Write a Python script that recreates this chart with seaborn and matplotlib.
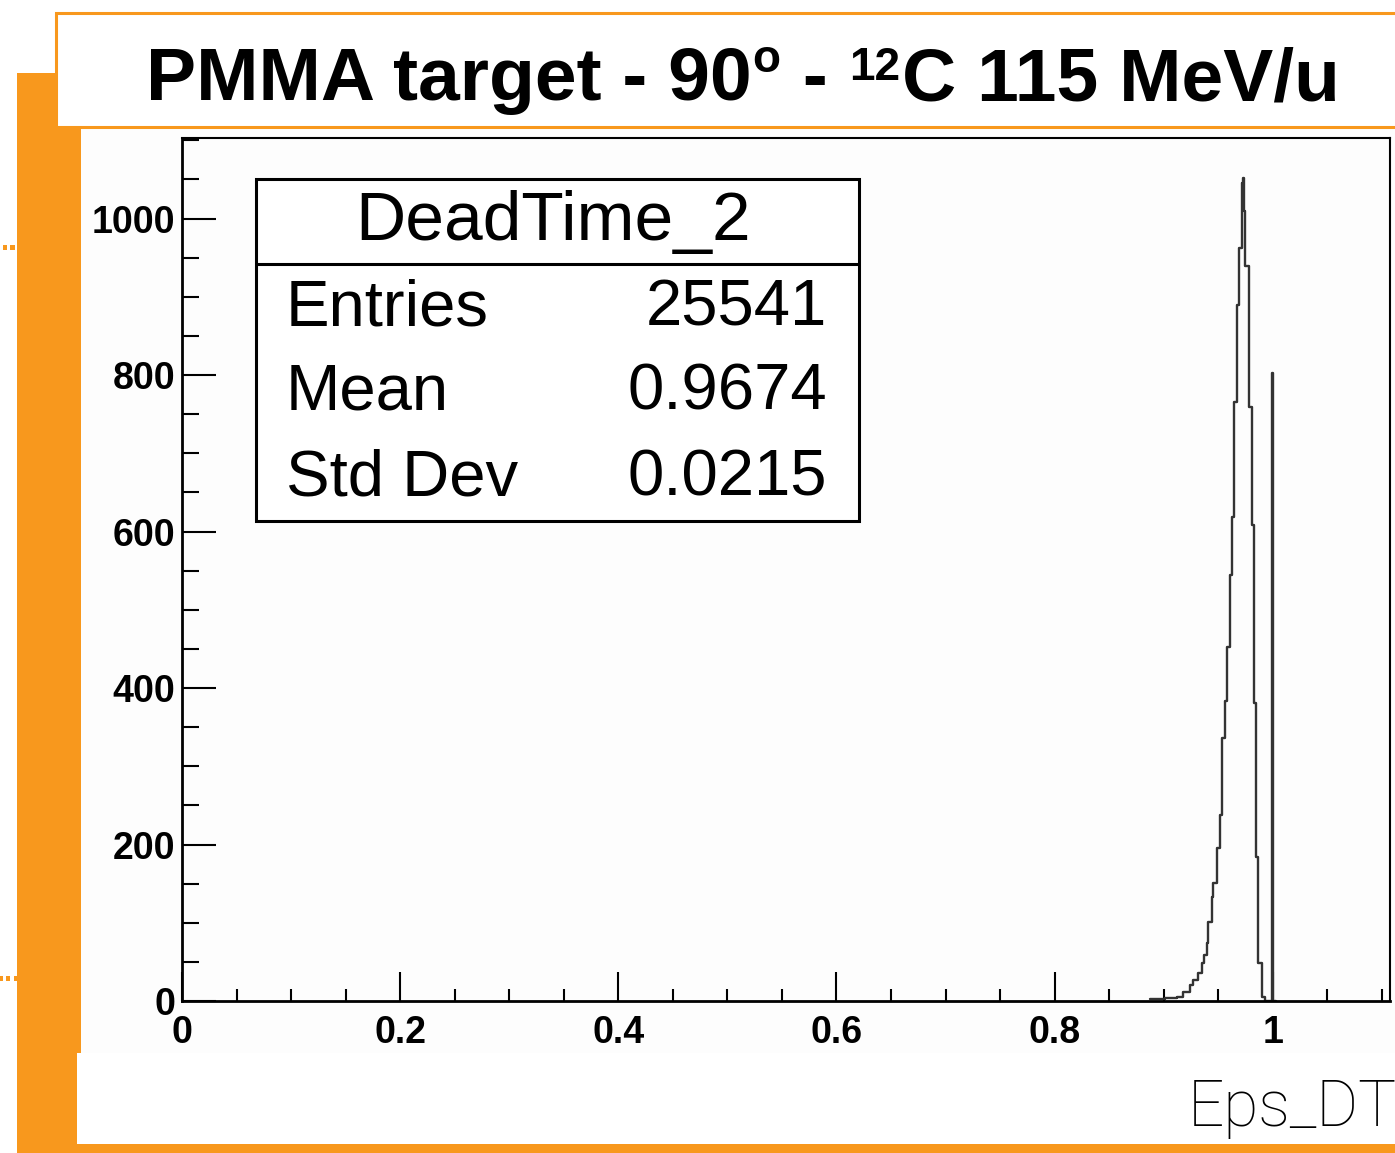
import numpy as np
import pandas as pd
import matplotlib
matplotlib.use("Agg")
import matplotlib.pyplot as plt
import seaborn as sns
from matplotlib.patches import Rectangle
from matplotlib.ticker import MultipleLocator

# ---------------- data ----------------
bin_edges = [0.8873, 0.9010, 0.9120, 0.9175, 0.9239, 0.9267, 0.9313, 0.9349,
             0.9367, 0.9395, 0.9404, 0.9441, 0.9450, 0.9487, 0.9514, 0.9537,
             0.9560, 0.9578, 0.9606, 0.9624, 0.9642, 0.9670, 0.9688, 0.9716,
             0.9725, 0.9734, 0.9746, 0.9780, 0.9807, 0.9826, 0.9844, 0.9862,
             0.9899, 0.9927, 0.9995, 1.0005, 1.0030]
bin_counts = [2, 4, 5, 11, 20, 27, 36, 49, 59, 74, 101, 133, 151, 195, 238, 336,
              384, 452, 544, 618, 765, 889, 962, 1046, 1052, 1010, 940, 759,
              608, 381, 184, 49, 5, 0, 803, 0]
x_ticks = [0, 0.2, 0.4, 0.6, 0.8, 1.0]
x_tick_labels = ["0", "0.2", "0.4", "0.6", "0.8", "1"]
y_ticks = [0, 200, 400, 600, 800, 1000]
y_tick_labels = ["0", "200", "400", "600", "800", "1000"]
stats_title = "DeadTime_2"
stats_names = ["Entries", "Mean", "Std Dev"]
stats_values = ["25541", "0.9674", "0.0215"]
# title pieces: (text, is_superscript)
title_parts = [("PMMA target - 90", False), ("o", True), (" - ", False),
               ("12", True), ("C 115 MeV/u", False)]
xlabel_text = "Eps_DT"

# ---------------- style ----------------
sns.set_style("white")
plt.rcParams["font.family"] = ["Liberation Sans", "DejaVu Sans"]
plt.rcParams["text.color"] = "black"
plt.rcParams["xtick.color"] = "black"
plt.rcParams["ytick.color"] = "black"

W, H = 1395, 1153
ORANGE = "#F8981D"
fig = plt.figure(figsize=(W / 100, H / 100), dpi=100)
fig.patch.set_facecolor("white")


def fx(x):
    return x / W


def fy(y):
    return 1 - y / H


def prect(x0, y0, x1, y1, **kw):
    r = Rectangle((fx(x0), fy(y1)), fx(x1) - fx(x0), fy(y0) - fy(y1),
                  transform=fig.transFigure, **kw)
    fig.patches.append(r)
    return r


# orange slide decorations
prect(17, 73, 81, 1053, facecolor=ORANGE, edgecolor="none", zorder=0)
prect(17, 1053, 77, 1153, facecolor=ORANGE, edgecolor="none", zorder=0)
prect(17, 1144, W + 5, 1153, facecolor=ORANGE, edgecolor="none", zorder=0)
for (a, b, yy) in [(3, 7, 245), (10, 15, 245), (0, 3, 976), (6, 10, 976), (14, 17, 976)]:
    prect(a, yy, b, yy + 5, facecolor=ORANGE, edgecolor="none", zorder=0)
# canvas
prect(81, 127, W + 5, 1053, facecolor="#fdfdfd", edgecolor="none", zorder=0)
# title box
prect(56, 13, W + 20, 127, facecolor="white", edgecolor=ORANGE, linewidth=2.2, zorder=1)

# title, assembled from pieces so superscripts sit like the original
MAIN_FS, SUP_FS = 54, 33
renderer = fig.canvas.get_renderer()
pieces = []
for txt, sup in title_parts:
    t = fig.text(0, 0, txt, fontsize=(SUP_FS if sup else MAIN_FS), fontweight="bold",
                 ha="left", va="baseline", color="black", zorder=5)
    w = t.get_window_extent(renderer=renderer).width
    if txt.startswith(" ") or txt.endswith(" "):
        probe = fig.text(0, 0, "|" + txt + "|", fontsize=MAIN_FS, fontweight="bold")
        pw = probe.get_window_extent(renderer=renderer).width
        bar = fig.text(0, 0, "||", fontsize=MAIN_FS, fontweight="bold")
        bw = bar.get_window_extent(renderer=renderer).width
        w = pw - bw
        probe.remove()
        bar.remove()
    pieces.append((t, w, sup, txt))
total = sum(p[1] for p in pieces) + 4
cx = 743 - total / 2
for t, w, sup, txt in pieces:
    base = 100
    if sup:
        base = 72 if txt == "o" else 80
    t.set_position((fx(cx), fy(base)))
    cx += w + (2 if sup else 0)

# ---------------- axes ----------------
ax = fig.add_axes([fx(182), fy(1001), fx(1390) - fx(182), fy(138) - fy(1001)])
ax.set_facecolor("none")
ax.set_zorder(3)

centers = [(bin_edges[i] + bin_edges[i + 1]) / 2 for i in range(len(bin_counts))]
df = pd.DataFrame({"x": centers, "w": bin_counts})
sns.histplot(data=df, x="x", weights="w", bins=bin_edges, element="step",
             fill=False, color="#333333", linewidth=1.7, ax=ax)

ax.set_xlim(0, 1.1075)
ax.set_ylim(0, 1103)
ax.set_xlabel("")
ax.set_ylabel("")
ax.set_xticks(x_ticks)
ax.set_xticklabels(x_tick_labels)
ax.set_yticks(y_ticks)
ax.set_yticklabels(y_tick_labels)
ax.xaxis.set_minor_locator(MultipleLocator(0.05))
ax.yaxis.set_minor_locator(MultipleLocator(50))
ax.tick_params(which="both", bottom=True, left=True, top=False, right=False)
ax.tick_params(axis="x", which="major", direction="in", length=21, width=1.5,
               pad=10, labelsize=27, colors="black")
ax.tick_params(axis="x", which="minor", direction="in", length=8.5, width=1.5, colors="black")
ax.tick_params(axis="y", which="major", direction="in", length=24.5, width=1.5,
               pad=5, labelsize=27, colors="black")
ax.tick_params(axis="y", which="minor", direction="in", length=12, width=1.5, colors="black")
for lab in ax.get_xticklabels() + ax.get_yticklabels():
    lab.set_fontweight("bold")
for s in ["left", "bottom"]:
    ax.spines[s].set_linewidth(2.0)
    ax.spines[s].set_color("black")
for s in ["top", "right"]:
    ax.spines[s].set_linewidth(1.5)
    ax.spines[s].set_color("black")
    ax.spines[s].set_visible(True)

# ---------------- stats box ----------------
prect(256, 179, 859, 521, facecolor="white", edgecolor="black", linewidth=2.2, zorder=10)
fig.lines.append(plt.Line2D([fx(256), fx(859)], [fy(264), fy(264)],
                            transform=fig.transFigure, color="black", linewidth=2.2, zorder=11))
fig.text(fx(553), fy(222), stats_title, fontsize=50, ha="center", va="center", zorder=12)
for i, (n, v) in enumerate(zip(stats_names, stats_values)):
    yy = 308 + 85 * i
    fig.text(fx(286), fy(yy), n, fontsize=47, ha="left", va="center", zorder=12)
    fig.text(fx(827), fy(yy), v, fontsize=47, ha="right", va="center", zorder=12)

# ---------------- x title ----------------
fig.text(fx(1188), fy(1108), xlabel_text, fontsize=46, family=["Roboto", "DejaVu Sans"],
         fontweight="light", ha="left", va="center", zorder=5)

fig.savefig("out.png", dpi=100)
